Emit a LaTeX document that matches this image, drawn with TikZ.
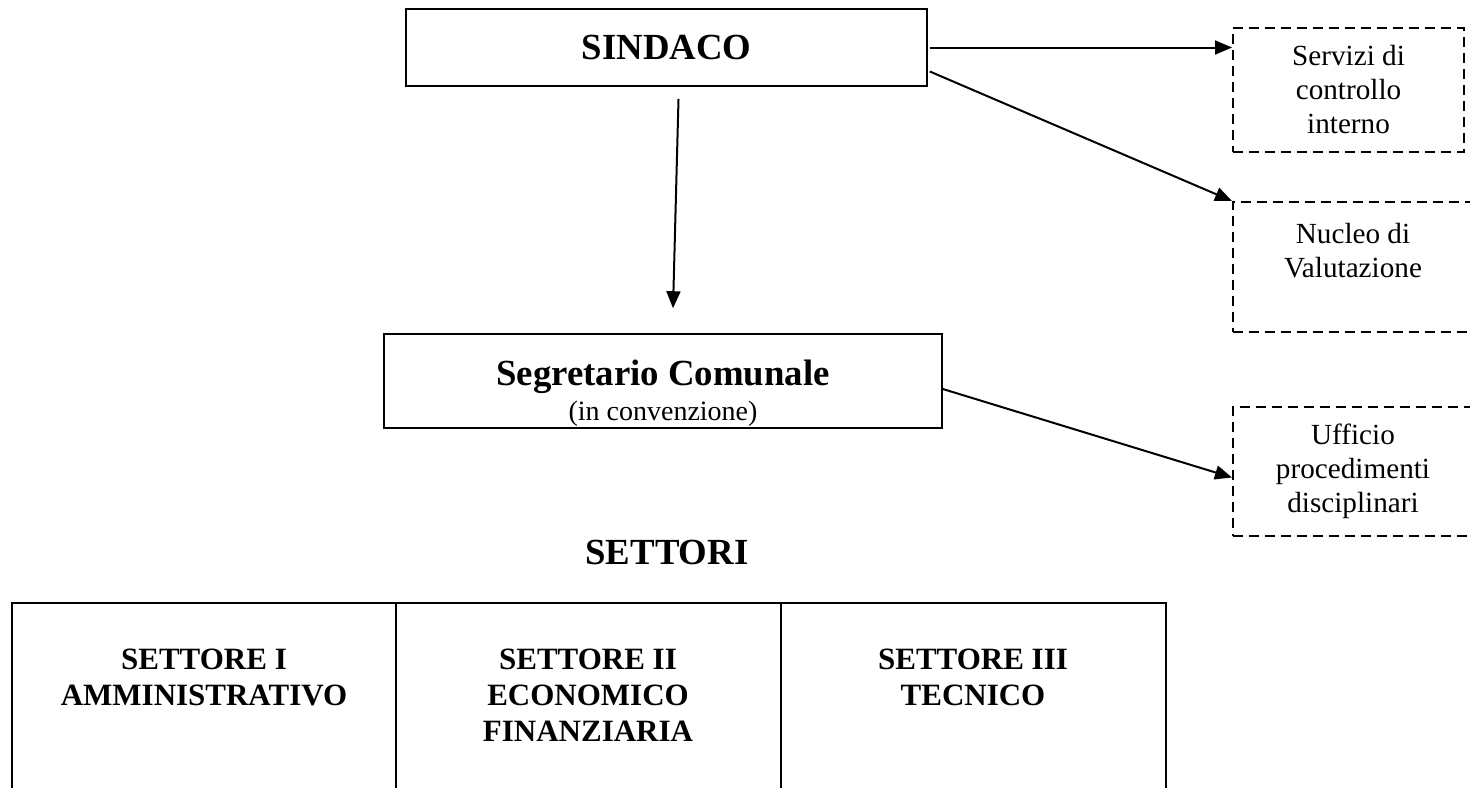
\documentclass[tikz,border=0pt]{standalone}
\usepackage{fontspec}
\setmainfont{Liberation Serif}
\usetikzlibrary{
  positioning,
  calc,
  arrows.meta
}

\begin{document}
\begin{tikzpicture}[x=0.5pt, y=-0.5pt,
    box/.style={draw, line width=0.8pt, inner sep=0pt, align=center},
    ext/.style={draw, dash pattern=on 5pt off 3pt, line width=1pt, inner sep=0pt, align=center,
                font=\fontsize{14.6}{17}\selectfont},
    conn/.style={-{Triangle[length=8.5pt,width=7pt]}, line width=1pt},
    head/.style={font=\bfseries\fontsize{18.4}{22}\selectfont},
    cell/.style={anchor=north, align=center, inner sep=0pt, font=\bfseries\fontsize{15.5}{18}\selectfont}
  ]
    \useasboundingbox (0,0) rectangle (1470,787);

    % vertici
    \node[box, head, minimum width=260.5pt, minimum height=38.5pt] (sindaco) at (666.5,47.5) {SINDACO};
    \node[box, minimum width=279pt, minimum height=47pt] (segretario) at (663,381) {};
    \node[align=center, inner sep=0pt, font=\fontsize{14}{17.5}\selectfont] (segretarioTxt)
        at ([yshift=-6pt]segretario.center)
        {{\bfseries\fontsize{18.4}{17.5}\selectfont Segretario Comunale}\\(in convenzione)};

    % organi esterni
    \node[ext, minimum width=115.5pt, minimum height=62pt] (servizi) at (1348.5,90) {Servizi di\\controllo\\interno};
    \node[ext, minimum width=120pt, minimum height=65pt] (nucleo) at (1353,267) {Nucleo di\\Valutazione\\\mbox{}};
    \node[ext, minimum width=120pt, minimum height=64.5pt] (ufficio) at (1353,471.5) {Ufficio\\procedimenti\\disciplinari};

    \draw[conn] ([xshift=1pt]sindaco.east) -- (sindaco.east -| servizi.west);
    \draw[conn] ([xshift=1pt,yshift=-12pt]sindaco.east) -- (nucleo.north west);
    \draw[conn] ([xshift=6pt,yshift=-6pt]sindaco.south) -- ([xshift=5pt,yshift=12.5pt]segretario.north);
    \draw[conn] ([yshift=-4pt]segretario.east) -- ([yshift=-3pt]ufficio.west);

    % settori
    \node[head] (settori) at (667,552) {SETTORI};
    \draw[line width=1.2pt] (12,800) |- (1166,603) -- (1166,800);
    \foreach \x in {396,781}
      \draw[line width=1.2pt] (\x,603) -- (\x,800);
    \node[cell] (settore1) at (204,649) {SETTORE I\\AMMINISTRATIVO};
    \node[cell] (settore2) at (588,649) {SETTORE II\\ECONOMICO\\FINANZIARIA};
    \node[cell] (settore3) at (973,649) {SETTORE III\\TECNICO};

\end{tikzpicture}
\end{document}
